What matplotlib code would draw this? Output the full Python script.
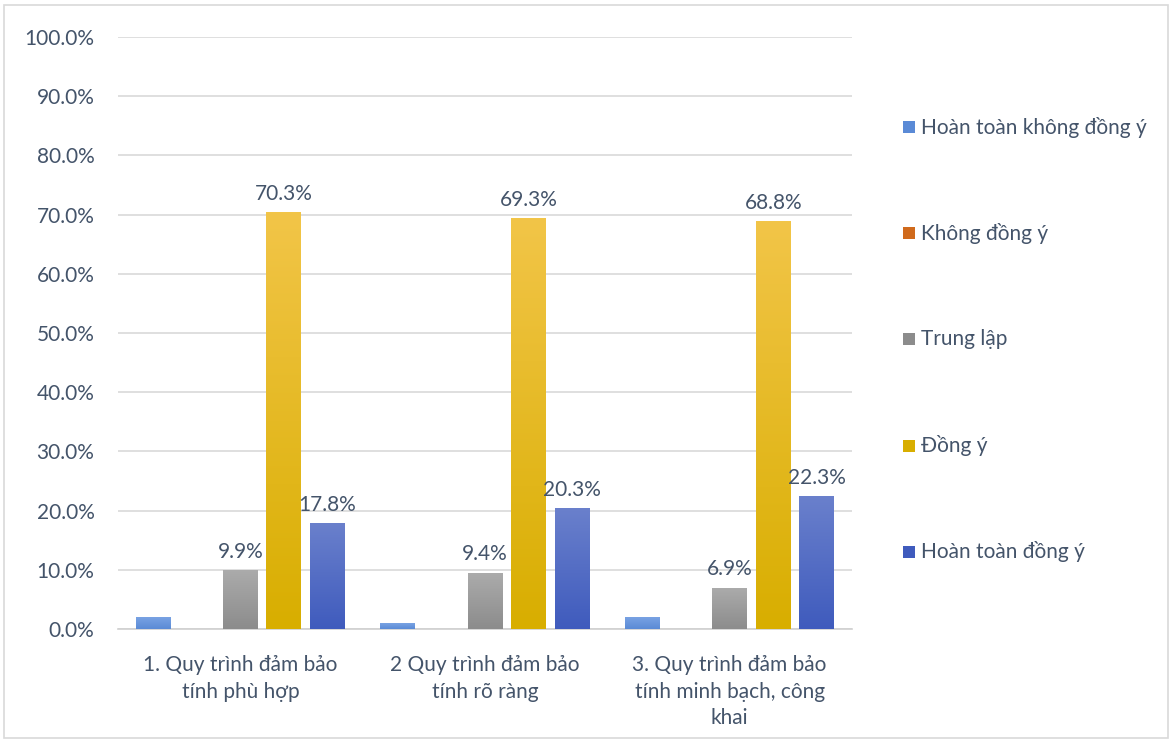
import matplotlib
matplotlib.use("Agg")
import matplotlib.pyplot as plt
from matplotlib.patches import Rectangle
from matplotlib.colors import LinearSegmentedColormap
import numpy as np

plt.rcParams["font.family"] = ["Lato", "DejaVu Sans"]

# ── Data ─────────────────────────────────────────────────────────────────────
categories = [
    "1. Quy trình đảm bảo\ntính phù hợp",
    "2 Quy trình đảm bảo\ntính rõ ràng",
    "3. Quy trình đảm bảo\ntính minh bạch, công\nkhai",
]
series_names = ["Hoàn toàn không đồng ý", "Không đồng ý", "Trung lập",
                "Đồng ý", "Hoàn toàn đồng ý"]
hoan_toan_khong = [2.0, 1.0, 2.0]
khong_dong_y = [0.0, 0.0, 0.0]
trung_lap = [9.9, 9.4, 6.9]
dong_y = [70.3, 69.3, 68.8]
hoan_toan_dong_y = [17.8, 20.3, 22.3]
show_labels = [False, False, True, True, True]

values = [hoan_toan_khong, khong_dong_y, trung_lap, dong_y, hoan_toan_dong_y]

# (top colour, bottom colour) for the vertical gradient of each series
GRAD = [
    ("#79a3e3", "#5a8ad6"),
    ("#f08a3c", "#d06a1c"),
    ("#ababab", "#8c8c8c"),
    ("#f2c548", "#d8ae00"),
    ("#6a80cc", "#3f5bbd"),
]
TXT = "#44546A"
GRID = "#d9d9d9"
FS = 15

fig = plt.figure(figsize=(11.71, 7.40), dpi=100)
ax = fig.add_axes([118 / 1171, 1 - 629 / 740, (852 - 118) / 1171, (629 - 37) / 740])

x = np.arange(len(categories))
step = 0.178
width = 0.143
offsets = (np.arange(len(series_names)) - 2) * step

for i, (vals, (ctop, cbot)) in enumerate(zip(values, GRAD)):
    cmap = LinearSegmentedColormap.from_list(f"g{i}", [cbot, ctop])
    grad = np.linspace(0, 1, 256).reshape(-1, 1)
    for xi, v in zip(x, vals):
        if v <= 0:
            continue
        left = xi + offsets[i] - width / 2
        ax.imshow(grad, cmap=cmap, origin="lower", aspect="auto",
                  extent=(left, left + width, 0, v), zorder=3)
        if show_labels[i]:
            ax.text(xi + offsets[i], v + 1.5, f"{v:.1f}%", ha="center",
                    va="bottom", fontsize=FS, color=TXT, zorder=5)

ax.set_xlim(-0.5, len(categories) - 0.5)
ax.set_ylim(0, 100)
ax.set_yticks(np.arange(0, 101, 10))
ax.set_yticklabels([f"{t:.1f}%" for t in np.arange(0, 101, 10)])
ax.set_xticks(x)
ax.set_xticklabels(categories, linespacing=1.4)
ax.tick_params(axis="both", length=0, labelsize=FS, labelcolor=TXT)
ax.tick_params(axis="y", pad=17)
ax.tick_params(axis="x", pad=19)
ax.grid(axis="y", color=GRID, lw=1.2, zorder=0)
ax.set_axisbelow(True)
for s in ["top", "right", "left"]:
    ax.spines[s].set_visible(False)
ax.spines["bottom"].set_color("#d0d0d0")
ax.spines["bottom"].set_linewidth(1.2)

# ── Legend (manual, spaced like the reference) ───────────────────────────────
leg_y = [127, 233, 339, 446, 552]
for name, (ctop, cbot), yp in zip(series_names, GRAD, leg_y):
    fig.patches.append(Rectangle((903 / 1171, 1 - (yp + 6) / 740), 12 / 1171, 12 / 740,
                                 transform=fig.transFigure, facecolor=cbot,
                                 edgecolor="none"))
    fig.text(921 / 1171, 1 - yp / 740, name, fontsize=FS, color=TXT,
             ha="left", va="center")

# chart border
fig.patches.append(Rectangle((4 / 1171, 2 / 740), 1164 / 1171, 733 / 740,
                             transform=fig.transFigure, fill=False,
                             edgecolor="#d9d9d9", lw=1.2))

fig.savefig("out.png", dpi=100)
